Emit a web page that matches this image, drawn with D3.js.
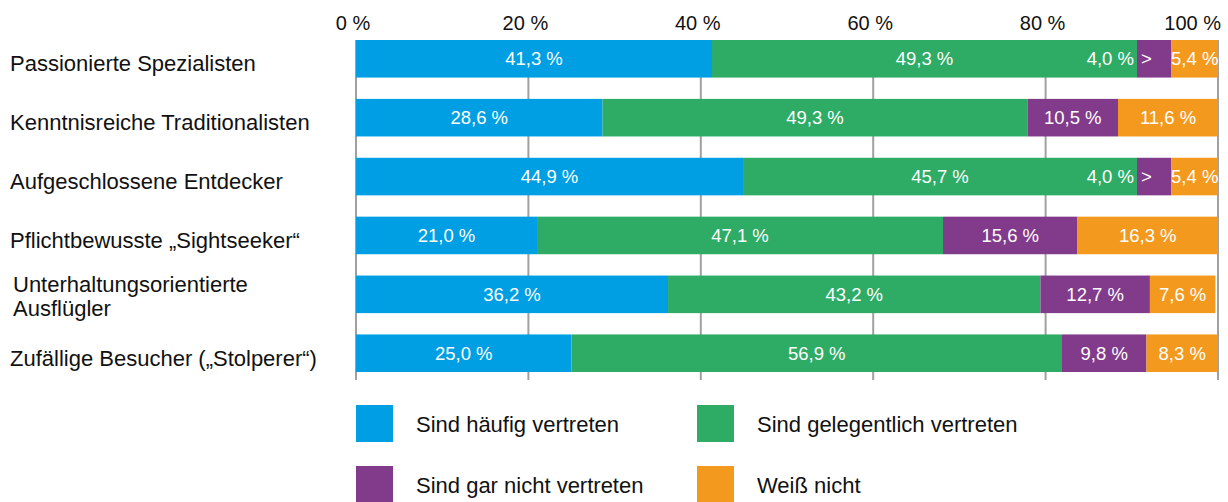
<!DOCTYPE html>
<html>
<head>
<meta charset="utf-8">
<script src="https://cdnjs.cloudflare.com/ajax/libs/d3/7.8.5/d3.min.js"></script>
<style>
  body { margin: 0; background: #fff; }
  svg { font-family: "Liberation Sans", Arial, sans-serif; }
</style>
</head>
<body>
<div id="plot"></div>
<script>
// data
const groups = [
  "Passionierte Spezialisten",
  "Kenntnisreiche Traditionalisten",
  "Aufgeschlossene Entdecker",
  "Pflichtbewusste „Sightseeker“",
  "Unterhaltungsorientierte\nAusflügler",
  "Zufällige Besucher („Stolperer“)"
];
const seriesNames = [
  "Sind häufig vertreten",
  "Sind gelegentlich vertreten",
  "Sind gar nicht vertreten",
  "Weiß nicht"
];
const haeufig =      [41.3, 28.6, 44.9, 21.0, 36.2, 25.0];
const gelegentlich = [49.3, 49.3, 45.7, 47.1, 43.2, 56.9];
const garNicht =     [4.0, 10.5, 4.0, 15.6, 12.7, 9.8];
const weissNicht =   [5.4, 11.6, 5.4, 16.3, 7.6, 8.3];
const ticks = [0, 20, 40, 60, 80, 100];

const colors = ["#009fe3", "#2eac66", "#823a8b", "#f39a1e"];
const series = [haeufig, gelegentlich, garNicht, weissNicht];

const svgWidth = 1228;
const svgHeight = 502;

const svg = d3
  .select("div#plot")
  .append("svg")
  .attr("width", svgWidth)
  .attr("height", svgHeight);

const x = d3.scaleLinear().domain([0, 100]).range([356, 1218]);
const y = d3
  .scaleBand()
  .domain(groups)
  .range([40, 372])
  .paddingInner(0.362)
  .paddingOuter(0);

const fmt = (v) => v.toFixed(1).replace(".", ",") + " %";

// grid lines
svg
  .selectAll(".grid")
  .data(ticks)
  .enter()
  .append("line")
  .attr("class", "grid")
  .attr("x1", (d) => x(d))
  .attr("x2", (d) => x(d))
  .attr("y1", 40)
  .attr("y2", 380)
  .style("stroke", "#a0a0a0")
  .style("stroke-width", 2);

// tick labels on top
svg
  .selectAll(".tick-label")
  .data(ticks)
  .enter()
  .append("text")
  .attr("class", "tick-label")
  .attr("x", (d, i) => (i === ticks.length - 1 ? x(d) + 3 : x(d) - 3))
  .attr("y", 30)
  .style("text-anchor", (d, i) => (i === ticks.length - 1 ? "end" : "middle"))
  .style("font-size", "20px")
  .style("fill", "#111")
  .text((d) => d + " %");

// stacked segments
const segs = [];
groups.forEach((g, gi) => {
  let acc = 0;
  series.forEach((s, si) => {
    segs.push({ group: g, si: si, v: s[gi], x0: acc, x1: acc + s[gi] });
    acc += s[gi];
  });
});

svg
  .selectAll(".seg")
  .data(segs)
  .enter()
  .append("rect")
  .attr("class", "seg")
  .attr("x", (d) => x(d.x0))
  .attr("y", (d) => y(d.group))
  .attr("width", (d) => x(d.x1) - x(d.x0))
  .attr("height", y.bandwidth())
  .style("fill", (d) => colors[d.si]);

// value labels
const labels = svg
  .selectAll(".val")
  .data(segs)
  .enter()
  .append("g")
  .attr("class", "val")
  .style("font-size", "18.5px")
  .style("fill", "#fff");

labels
  .append("text")
  .attr("x", (d) => (d.v < 5 ? x(d.x0) - 3 : (x(d.x0) + x(d.x1)) / 2))
  .attr("y", (d) => y(d.group) + y.bandwidth() / 2)
  .attr("dy", "0.35em")
  .style("text-anchor", (d) => (d.v < 5 ? "end" : "middle"))
  .text((d) => fmt(d.v));

labels
  .filter((d) => d.v < 5)
  .append("text")
  .attr("x", (d) => x(d.x0) + 4)
  .attr("y", (d) => y(d.group) + y.bandwidth() / 2)
  .attr("dy", "0.35em")
  .text(">");

// row labels
const rowLabels = svg
  .selectAll(".row-label")
  .data(groups)
  .enter()
  .append("text")
  .attr("class", "row-label")
  .style("font-size", "22px")
  .style("fill", "#111")
  .attr("y", (d) => y(d) + y.bandwidth() / 2 + 5);

rowLabels.each(function (d) {
  const lines = d.split("\n");
  const t = d3.select(this);
  lines.forEach((line, i) => {
    t.append("tspan")
      .attr("x", lines.length > 1 ? 13 : 10)
      .attr("dy", i === 0 ? (lines.length > 1 ? "-0.32em" : "0.35em") : "1.1em")
      .text(line);
  });
});

// legend
const legend = svg
  .selectAll(".legend")
  .data(seriesNames)
  .enter()
  .append("g")
  .attr("class", "legend")
  .attr(
    "transform",
    (d, i) => "translate(" + (i % 2 === 0 ? 356 : 697) + "," + (i < 2 ? 405 : 466) + ")"
  );

legend
  .append("rect")
  .attr("width", 37)
  .attr("height", 37)
  .style("fill", (d, i) => colors[i]);

legend
  .append("text")
  .attr("x", 60)
  .attr("y", 19)
  .attr("dy", "0.35em")
  .style("font-size", "22px")
  .style("fill", "#111")
  .text((d) => d);
</script>
</body>
</html>
